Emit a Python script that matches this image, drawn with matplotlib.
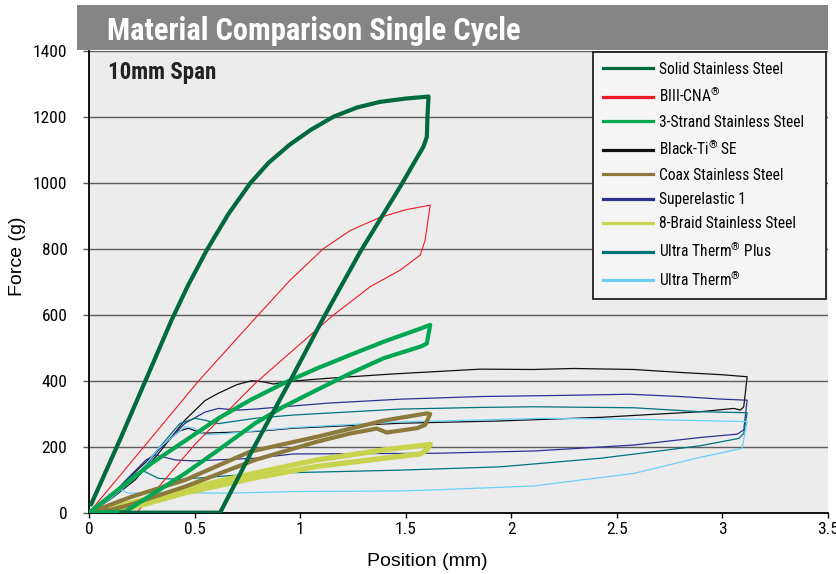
import matplotlib
matplotlib.use("Agg")
import matplotlib.pyplot as plt
from matplotlib.lines import Line2D
from matplotlib.patches import Rectangle
from matplotlib import font_manager

names = {f.name for f in font_manager.fontManager.ttflist}
NARROW = None
for cand in ['Roboto Condensed', 'Archivo Narrow', 'Liberation Sans Narrow', 'Barlow Semi Condensed']:
    if cand in names:
        NARROW = cand
        break
if NARROW is None:
    NARROW = 'DejaVu Sans'
    plt.rcParams['font.stretch'] = 'condensed'
REG = 'Liberation Sans' if 'Liberation Sans' in names else 'DejaVu Sans'
plt.rcParams['font.family'] = [NARROW, 'DejaVu Sans']
plt.rcParams['mathtext.fontset'] = 'custom'
plt.rcParams['mathtext.rm'] = NARROW

# ---------------- data (position mm, force g) ----------------
labels = ['Solid Stainless Steel', 'BIII-CNA$^{®}$', '3-Strand Stainless Steel',
          'Black-Ti$^{®}$ SE', 'Coax Stainless Steel', 'Superelastic 1',
          '8-Braid Stainless Steel', 'Ultra Therm$^{®}$ Plus', 'Ultra Therm$^{®}$']
colors = ['#00693e', '#ed1c24', '#00a651', '#111111', '#8c7a3c', '#2e3192',
          '#c8d44e', '#00727a', '#6dcff6']
widths = [3.0, 0.8, 3.0, 0.9, 3.0, 0.9, 3.8, 0.9, 0.9]

solid_x = [0.01, 0.15, 0.289, 0.392, 0.47, 0.558, 0.66, 0.763, 0.85, 0.95, 1.05, 1.158, 1.27,
           1.379, 1.5, 1.608, 1.603, 1.600, 1.584, 1.53, 1.474, 1.38, 1.284, 1.11, 0.953, 0.77,
           0.621, 0.40, 0.15]
solid_y = [25, 226, 432, 585, 690, 796, 905, 998, 1060, 1115, 1160, 1200, 1228,
           1245, 1255, 1261, 1200, 1139, 1109, 1050, 988, 890, 790, 590, 400, 185,
           0, 0, 0]

biii_x = [0, 0.25, 0.52, 0.787, 0.953, 1.11, 1.237, 1.379, 1.5, 1.616, 1.604, 1.592, 1.569,
          1.474, 1.332, 1.15, 0.98, 0.787, 0.5, 0.226, 0.0]
biii_y = [0, 192, 400, 589, 705, 800, 855, 895, 918, 932, 880, 826, 781,
          735, 685, 595, 500, 392, 206, 0, 0]

strand3_x = [0, 0.297, 0.613, 0.763, 0.921, 1.079, 1.237, 1.395, 1.553, 1.616,
             1.600, 1.577, 1.553, 1.395, 1.237, 1.079, 0.921, 0.787, 0.613, 0.455, 0.171, 0.0]
strand3_y = [0, 150, 286, 341, 392, 437, 478, 518, 554, 569,
             513, 505, 500, 468, 422, 372, 321, 271, 190, 119, 3, 0]

blackti_x = [0, 0.1, 0.218, 0.33, 0.455, 0.55, 0.613, 0.7, 0.771, 0.82, 0.874, 0.95, 1.126,
             1.427, 1.853, 2.1, 2.295, 2.58, 2.801, 3.0, 3.117,
             3.101, 3.085, 3.054, 2.896, 2.422, 1.948, 1.474, 0.968, 0.787, 0.534, 0.47,
             0.43, 0.38, 0.3, 0.2, 0.1, 0]
blackti_y = [0, 40, 99, 180, 281, 340, 362, 388, 400, 397, 390, 398, 407,
             420, 435, 434, 437, 434, 425, 418, 412,
             321, 311, 316, 306, 289, 278, 271, 256, 246, 241, 256,
             248, 222, 172, 112, 48, 0]

coax_x = [0, 0.2, 0.455, 0.763, 1.079, 1.395, 1.600, 1.616,
          1.592, 1.553, 1.41, 1.363, 1.237, 1.079, 0.787, 0.455, 0.2, 0.1, 0]
coax_y = [0, 48, 99, 185, 230, 279, 301, 299,
          266, 256, 243, 255, 240, 215, 160, 79, 25, 8, 0]

super1_x = [0, 0.1, 0.218, 0.33, 0.455, 0.55, 0.613, 0.706, 0.787, 1.13, 1.474, 1.853, 2.3,
            2.559, 2.8, 3.0, 3.117,
            3.101, 3.07, 2.896, 2.58, 2.106, 1.632, 0.968, 0.787, 0.494, 0.408, 0.313, 0.27,
            0.2, 0.1, 0]
super1_y = [0, 42, 105, 190, 271, 305, 316, 311, 314, 332, 344, 352, 356,
            359, 352, 344, 341,
            251, 238, 228, 205, 187, 180, 178, 165, 157, 160, 175, 160,
            115, 50, 0]

braid8_x = [0, 0.2, 0.455, 0.787, 1.079, 1.395, 1.616, 1.600, 1.57, 1.395, 1.079, 0.787, 0.455, 0.12]
braid8_y = [0, 30, 72, 120, 160, 190, 207, 190, 178, 165, 140, 106, 60, 0]

utplus_x = [0, 0.1, 0.218, 0.33, 0.43, 0.502, 0.55, 0.613, 0.787, 0.968, 1.474, 1.853, 2.106,
            2.58, 2.896, 3.117,
            3.101, 3.077, 2.896, 2.738, 2.422, 1.948, 1.474, 0.81, 0.431, 0.329, 0.25, 0.2,
            0.1, 0]
utplus_y = [0, 42, 105, 195, 270, 286, 280, 270, 286, 296, 314, 319, 321,
            318, 306, 303,
            240, 225, 203, 190, 165, 139, 129, 119, 101, 104, 129, 110,
            50, 0]

ut_x = [0, 0.1, 0.218, 0.33, 0.455, 0.5, 0.55, 0.65, 0.968, 1.474, 2.153, 2.6, 3.117,
        3.093, 2.896, 2.58, 2.106, 1.632, 1.474, 0.968, 0.652, 0.3, 0.186, 0.139, 0.1, 0.05, 0]
ut_y = [0, 42, 105, 195, 261, 255, 236, 240, 258, 275, 286, 283, 276,
        195, 168, 119, 81, 69, 66, 64, 59, 62, 59, 74, 55, 25, 0]

series_x = [solid_x, biii_x, strand3_x, blackti_x, coax_x, super1_x, braid8_x, utplus_x, ut_x]
series_y = [solid_y, biii_y, strand3_y, blackti_y, coax_y, super1_y, braid8_y, utplus_y, ut_y]
zorders = [9, 4, 8, 3, 7, 3, 6, 3, 3]

xticks = [0, 0.5, 1, 1.5, 2, 2.5, 3, 3.5]
xticklabels = ['0', '0.5', '1', '1.5', '2', '2.5', '3', '3.5']
yticks = [0, 200, 400, 600, 800, 1000, 1200, 1400]

# ---------------- figure ----------------
W, H = 837, 574
fig = plt.figure(figsize=(W / 100, H / 100), dpi=100)
fig.patch.set_facecolor('white')

def fx(px):
    return px / W

def fy(py):
    return 1 - py / H

ax = fig.add_axes([fx(89), fy(512.7), fx(828) - fx(89), fy(50.7) - fy(512.7)])
ax.set_facecolor('#ececec')

for xs, ys, c, lw, z in zip(series_x, series_y, colors, widths, zorders):
    ax.plot(xs, ys, color=c, lw=lw, zorder=z, solid_joinstyle='round', solid_capstyle='round')

ax.set_xlim(0, 3.5)
ax.set_ylim(0, 1400)
ax.set_xticks(xticks)
ax.set_xticklabels(xticklabels)
ax.set_yticks(yticks)
ax.tick_params(axis='y', length=4.5, width=1.0, color='#555555', pad=11, labelsize=12.5)
ax.tick_params(axis='x', length=3.5, width=1.0, color='black', pad=3, labelsize=12.5)
ax.yaxis.grid(True, color='#5c5c5c', lw=1.0)
ax.set_axisbelow(True)
for s in ['top', 'right']:
    ax.spines[s].set_visible(False)
ax.spines['left'].set_linewidth(1.3)
ax.spines['bottom'].set_linewidth(1.3)

# title band
fig.patches.append(Rectangle((fx(77), fy(50)), fx(828) - fx(77), fy(5) - fy(50),
                             transform=fig.transFigure, facecolor='#858585',
                             edgecolor='none', zorder=0))
fig.text(fx(107), fy(31), 'Material Comparison Single Cycle', color='white',
         fontsize=22, fontweight='bold', ha='left', va='center')
ax.text(fx(108), fy(73), '10mm Span', transform=fig.transFigure, color='#222222',
        fontsize=16.5, fontweight='bold', ha='left', va='center', zorder=12)

fig.text(fx(427), fy(562), 'Position (mm)', fontsize=14, ha='center', va='center',
         family=[REG, 'DejaVu Sans'], stretch='normal')
fig.text(fx(18), fy(256), 'Force (g)', fontsize=14, ha='center', va='center',
         rotation=90, family=[REG, 'DejaVu Sans'], stretch='normal')

# legend
handles = [Line2D([0], [0], color=c, lw=2.3) for c in colors]
leg = ax.legend(handles, labels, loc='upper left',
                bbox_to_anchor=((593 - 89) / 739, (512.7 - 52) / 462, (826 - 593) / 739, 0.0),
                mode='expand', borderaxespad=0, fontsize=11.2, frameon=True, fancybox=False,
                framealpha=1, facecolor='#f5f5f5', edgecolor='#222222', handlelength=3.25,
                handletextpad=0.4, labelspacing=0.6, borderpad=0.62)
leg.get_frame().set_linewidth(1.3)
leg.set_zorder(20)

fig.savefig('out.png', dpi=100)
